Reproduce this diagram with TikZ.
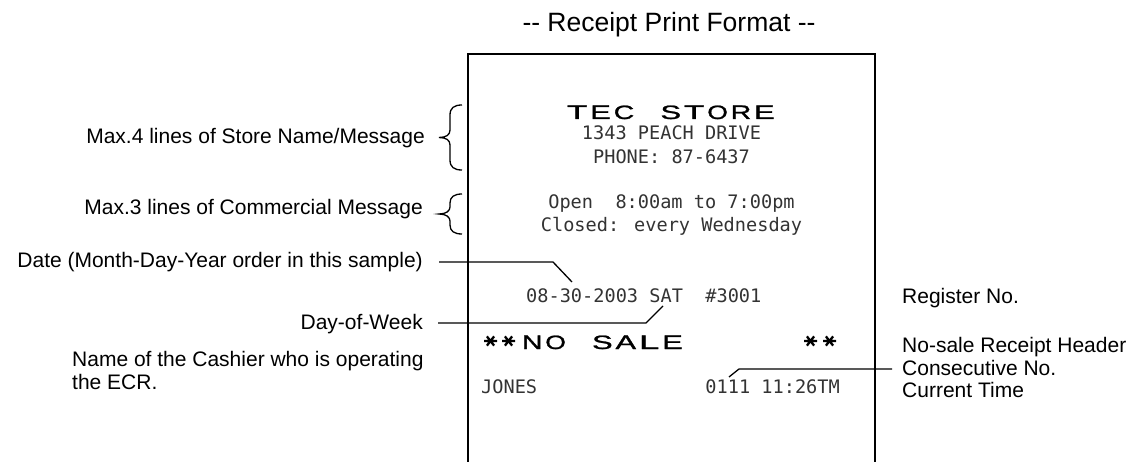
\documentclass[tikz,border=0pt]{standalone}
\usepackage{fontspec}
\usepackage{graphicx}
\setmainfont{Liberation Sans}
\newfontfamily\rcptfont{DejaVu Sans Mono}
\newfontfamily\widefont[FakeBold=1.2]{Liberation Sans}
\newcommand\dwc[1]{\makebox[23.4pt][c]{\resizebox{20.5pt}{13.5pt}{\widefont #1}}}
\newcommand\dwsp{\makebox[23.4pt]{}}
\tikzset{
  lbl/.style={font=\fontsize{21}{23.5}\selectfont, inner sep=0pt},
  rc/.style={font=\rcptfont\fontsize{18.6}{20}\selectfont, inner sep=0pt, text=black!80},
  lead/.style={line width=1.3pt},
  paper/.style={line width=2pt},
  starline/.style={line width=2.3pt},
}
\newcommand\rstar[2]{\draw[starline] (#1-6.5,#2) -- (#1+6.5,#2) (#1-3.6,#2-4.6) -- (#1+3.6,#2+4.6) (#1-3.6,#2+4.6) -- (#1+3.6,#2-4.6);}
\begin{document}
\begin{tikzpicture}[x=1pt,y=-1pt]
\useasboundingbox (0,0) rectangle (1132,462);
% title
\node[font=\fontsize{26.5}{26.5}\selectfont, anchor=base, inner sep=0pt] (title) at (669,32) {-{}- Receipt Print Format -{}-};
% receipt paper
\draw[paper] (468,462) -- (468,54) -- (875,54) -- (875,462);
% receipt contents
\node[anchor=base west, inner sep=0pt] (store) at (565.3,119) {\dwc{T}\dwc{E}\dwc{C}\dwsp\dwc{S}\dwc{T}\dwc{O}\dwc{R}\dwc{E}};
\node[rc, anchor=base] (addr) at (671.5,140) {1343 PEACH DRIVE};
\node[rc, anchor=base] (phone) at (671.5,164) {PHONE: 87-6437};
\node[rc, anchor=base] (open) at (671.5,209) {Open\ \ 8:00am to 7:00pm};
\node[rc, anchor=base] (closed) at (671.5,231.5) {Closed: every Wednesday};
\node[rc, anchor=base west] (date) at (526,302) {08-30-2003 SAT\ \ \#3001};
\node[anchor=base west, inner sep=0pt] (nosale) at (520.3,349) {\dwc{N}\dwc{O}\dwsp\dwc{S}\dwc{A}\dwc{L}\dwc{E}};
\rstar{490.5}{341}
\rstar{508.5}{341}
\rstar{810.5}{341}
\rstar{829.5}{341}
\node[rc, anchor=base west] (jones) at (481,393) {JONES};
\node[rc, anchor=base east] (time) at (840,393) {0111 11:26TM};
% left labels
\node[lbl, anchor=base east] (l1) at (425,144) {Max.4 lines of Store Name/Message};
\node[lbl, anchor=base east] (l2) at (423,215) {Max.3 lines of Commercial Message};
\node[lbl, anchor=base east] (l3) at (423,268) {Date (Month-Day-Year order in this sample)};
\node[lbl, anchor=base east] (l4) at (423,329) {Day-of-Week};
\node[lbl, anchor=base west] (l5) at (72,366) {Name of the Cashier who is operating};
\node[lbl, anchor=base west] (l6) at (72,389) {the ECR.};
% right labels
\node[lbl, anchor=base west] (r1) at (902,304) {Register No.};
\node[lbl, anchor=base west] (r2) at (902,352.5) {No-sale Receipt Header};
\node[lbl, anchor=base west] (r3) at (902,375) {Consecutive No.};
\node[lbl, anchor=base west] (r4) at (902,397.5) {Current Time};
% braces
\draw[lead] (462,105) .. controls (454,105) and (450,108) .. (450,115) -- (450,130)
  .. controls (450,135) and (446,137.5) .. (439,137.5)
  .. controls (446,137.5) and (450,140) .. (450,145) -- (450,160)
  .. controls (450,167) and (454,170) .. (462,170);
\draw[lead] (462,194) .. controls (454,194) and (450,197) .. (450,203) -- (450,207)
  .. controls (450,211) and (446,214) .. (439,214)
  .. controls (446,214) and (450,217) .. (450,221) -- (450,225)
  .. controls (450,231) and (454,234) .. (462,234);
% leader lines
\coordinate (dA) at (439,262);
\coordinate (dB) at (553,262);
\coordinate (dC) at (572,282);
\draw[lead] (dA) -- (dB) -- (dC);
\coordinate (wA) at (438,323);
\coordinate (wB) at (646,323);
\coordinate (wC) at (663,306);
\draw[lead] (wA) -- (wB) -- (wC);
\coordinate (cA) at (892,369);
\coordinate (cB) at (739,369);
\coordinate (cC) at (729,377);
\draw[lead] (cA) -- (cB) -- (cC);
\end{tikzpicture}
\end{document}
